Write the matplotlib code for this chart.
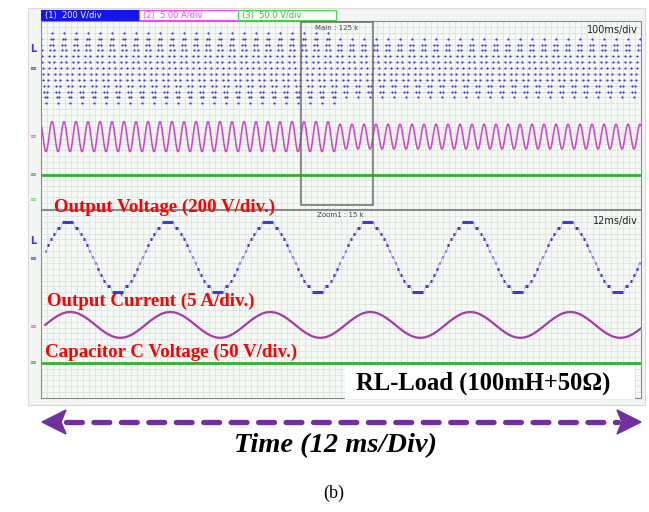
import numpy as np
import matplotlib.pyplot as plt
from matplotlib.patches import Rectangle, Polygon
from matplotlib.transforms import blended_transform_factory

W, H = 649, 512

# channel scales
volt_div = 200   # V/div  (output voltage)
amp_div = 5      # A/div  (output current)
cap_div = 50     # V/div  (capacitor C voltage)

# staircase output: one level = 50 V, switching angles (deg)
level_step_V = 50
angles_6lvl = [5, 15, 25, 36, 49, 66]
angles_5lvl = [6, 17, 30, 44, 64]

# one cycle of the load current, 15 deg per sample (per unit of peak)
current_shape = [0.00, 0.26, 0.50, 0.71, 0.87, 0.97, 1.00, 0.97, 0.87, 0.71, 0.50, 0.26,
                 0.00, -0.26, -0.50, -0.71, -0.87, -0.97, -1.00, -0.97, -0.87, -0.71, -0.50, -0.26]
current_lag_deg = 10
period_ms = 20

# main window (100 ms/div)
main_span_ms = 1000
main_start_ms = -7.2
main_change_ms = 490
main_current_A = [3.2, 2.65]
main_cap_V = 0.0

# zoom window (12 ms/div)
zoom_span_ms = 120
zoom_start_ms = 0.3
zoom_current_A = 2.75
zoom_cap_V = 0.0
zoom_window_ms = (433, 553)

BLUE = '#3c3cd4'
MAG_UP = '#d040cc'
MAG_LO = '#a83aaa'
GREEN = '#30b030'


def stair_segments(angles):
    ev = []
    for k, a in enumerate(angles, 1):
        ev += [(a, k), (180 - a, k - 1), (180 + a, -k), (360 - a, 1 - k)]
    ev.sort()
    segs = []
    for i, (a, lvl) in enumerate(ev):
        b = ev[i + 1][0] if i + 1 < len(ev) else ev[0][0] + 360
        segs.append((a, b, lvl))
    return segs


def stair_wave(start, n_cycles, pick_angles):
    out = []
    for c in range(n_cycles):
        tc = start + c * period_ms
        for a, b, lvl in stair_segments(pick_angles(tc)):
            out.append((tc + a / 360 * period_ms, tc + b / 360 * period_ms, lvl * level_step_V))
    return out


def current_wave(start, n_cycles, pick_amp):
    t, y = [], []
    n = len(current_shape)
    for c in range(n_cycles):
        tc = start + c * period_ms + current_lag_deg / 360 * period_ms
        amp = pick_amp(tc)
        for j, s in enumerate(current_shape):
            t.append(tc + j * period_ms / n)
            y.append(amp * s)
    return np.array(t), np.array(y)


def px_rect(x0, y0, x1, y1):
    return [x0 / W, 1 - y1 / H, (x1 - x0) / W, (y1 - y0) / H]


fig = plt.figure(figsize=(W / 100, H / 100), dpi=100)

bg = fig.add_axes([0, 0, 1, 1])
bg.set_xlim(0, W)
bg.set_ylim(H, 0)
bg.axis('off')
bg.add_patch(Rectangle((28, 8), 617, 397, fc='#f3f5f3', ec='#e2d6d6', lw=0.8))

# header bar
bg.add_patch(Rectangle((41, 10), 98, 10, fc='#1414ee', ec='#1414ee', lw=0.8))
bg.add_patch(Rectangle((139, 10), 99, 10, fc='white', ec='#ff48ff', lw=0.8))
bg.add_patch(Rectangle((238, 10), 98, 10, fc='white', ec='#48dd48', lw=0.8))
bg.text(45, 15.5, '(1)  200 V/div', color='white', fontsize=6, va='center')
bg.text(143, 15.5, '(2)  5.00 A/div', color='#ff40ff', fontsize=6, va='center')
bg.text(242, 15.5, '(3)  50.0 V/div', color='#30c030', fontsize=6, va='center')


def setup_panel(ax, span, step):
    ax.set_xlim(0, span)
    ax.set_ylim(-4, 4)
    ax.set_facecolor('#f6faf6')
    ax.set_xticks(np.arange(0, span + step / 2, step))
    ax.set_yticks(np.arange(-4, 4.01, 0.25))
    ax.grid(True, color='#dadfda', lw=0.5)
    ax.tick_params(length=0, labelleft=False, labelbottom=False)
    for s in ax.spines.values():
        s.set_color('#8a8a8a')
        s.set_linewidth(0.8)


# ---- upper panel: main 100 ms/div ----
ax1 = fig.add_axes(px_rect(41, 21, 641, 209))
setup_panel(ax1, main_span_ms, 10)
n_main = int(main_span_ms / period_ms) + 2

segs = stair_wave(main_start_ms, n_main,
                  lambda tc: angles_6lvl if tc < main_change_ms else angles_5lvl)
xs = [(a + b) / 2 for a, b, v in segs]
ys = [2.0 + v / volt_div for a, b, v in segs]
ax1.plot(xs, ys, 'o', color=BLUE, ms=1.6, mew=0)

t, i = current_wave(main_start_ms, n_main,
                    lambda tc: main_current_A[0] if tc < main_change_ms else main_current_A[1])
ax1.plot(t, -0.92 + i / amp_div, color=MAG_UP, lw=1.1)
ax1.axhline(-2.55 + main_cap_V / cap_div, color=GREEN, lw=2)

ax1.add_patch(Rectangle((zoom_window_ms[0], -3.83), zoom_window_ms[1] - zoom_window_ms[0], 7.79,
                        fill=False, ec='#6c6c6c', lw=1.1, zorder=5))
ax1.text((zoom_window_ms[0] + zoom_window_ms[1]) / 2, 3.7, 'Main : 125 k', fontsize=5,
         color='#444444', ha='center', va='center')
ax1.text(0.995, 3.6, '100ms/div', transform=blended_transform_factory(ax1.transAxes, ax1.transData),
         fontsize=7, color='#222222', ha='right', va='center')

# ---- lower panel: zoom 12 ms/div ----
ax2 = fig.add_axes(px_rect(41, 210, 641, 398))
setup_panel(ax2, zoom_span_ms, 1.2)
n_zoom = int(zoom_span_ms / period_ms) + 1

segs = stair_wave(zoom_start_ms, n_zoom, lambda tc: angles_6lvl)
for a, b, v in segs:
    ax2.plot([a + 0.15, b - 0.15], [2.0 + v / volt_div] * 2, color=BLUE, lw=2.2,
             solid_capstyle='butt')
edges = [a for a, b, v in segs] + [segs[-1][1]]
levels = [2.0 + v / volt_div for a, b, v in segs]
ax2.stairs(levels, edges, color=BLUE, lw=0.5, alpha=0.35, baseline=None)

t, i = current_wave(zoom_start_ms, n_zoom, lambda tc: zoom_current_A)
ax2.plot(t, -0.89 + i / amp_div, color=MAG_LO, lw=1.6)
ax2.axhline(-2.49 + zoom_cap_V / cap_div, color=GREEN, lw=2)

ax2.text(0.995, 3.55, '12ms/div', transform=blended_transform_factory(ax2.transAxes, ax2.transData),
         fontsize=7, color='#222222', ha='right', va='center')

# channel markers on the left edge
for ax, items in ((ax1, [('L', 2.8, BLUE), ('≡', 2.0, BLUE), ('≡', -0.92, '#e060e0'), ('≡', -2.55, GREEN)]),
                  (ax2, [('L', 2.7, BLUE), ('≡', 1.95, BLUE), ('≡', -0.95, '#e060e0'), ('≡', -2.49, GREEN)])):
    tr = blended_transform_factory(ax.transAxes, ax.transData)
    for s, y, c in items:
        ax.text(-0.008, y, s, transform=tr, color=c, fontsize=7 if s == 'L' else 6,
                fontweight='bold' if s == 'L' else 'normal', ha='right', va='center', clip_on=False)
ax1.text(-0.008, -3.6, '≡', transform=blended_transform_factory(ax1.transAxes, ax1.transData),
         color='#70d070', fontsize=6, ha='right', va='center', clip_on=False)

# ---- foreground annotations ----
fg = fig.add_axes([0, 0, 1, 1])
fg.set_xlim(0, W)
fg.set_ylim(H, 0)
fg.axis('off')
fg.patch.set_visible(False)

fg.text(340, 215, 'Zoom1 : 15 k', fontsize=5, color='#444444', ha='center', va='center')

red = dict(family='Liberation Serif', fontweight='bold', color='#ff0000', fontsize=13.6, va='center')
fg.text(54, 207, 'Output Voltage (200 V/div.)', **red)
fg.text(47, 301, 'Output Current (5 A/div.)', **red)
fg.text(45, 352, 'Capacitor C Voltage (50 V/div.)', **red)

fg.add_patch(Rectangle((345, 367), 290, 32, fc='white', ec='none'))
fg.text(483, 383, 'RL-Load (100mH+50Ω)', family='Liberation Serif', fontweight='bold',
        fontsize=17.7, color='black', ha='center', va='center')

# dashed double arrow
PURPLE = '#7030a0'
fg.plot([66, 618], [422, 422], color=PURPLE, lw=3.8, linestyle=(0, (3.0, 2.2)),
        dash_capstyle='round')
fg.add_patch(Polygon([[42, 422], [66, 410], [61, 422], [66, 434]], closed=True, fc=PURPLE, ec=PURPLE))
fg.add_patch(Polygon([[641, 422], [617, 410], [622, 422], [617, 434]], closed=True, fc=PURPLE, ec=PURPLE))

fg.text(335, 446, 'Time (12 ms/Div)', family='Liberation Serif', fontweight='bold', style='italic',
        fontsize=20.5, color='black', ha='center', va='center')
fg.text(334, 493, '(b)', family='Liberation Serif', fontsize=13, color='black', ha='center', va='center')

fig.savefig('out.png', dpi=100)
